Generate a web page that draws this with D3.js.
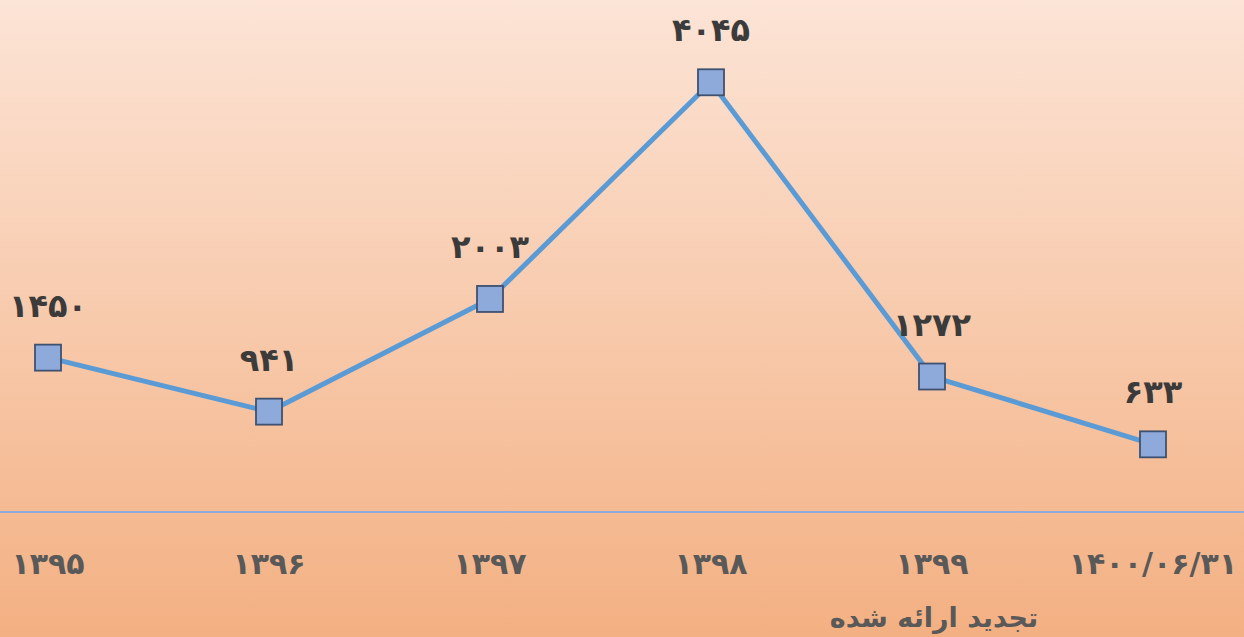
<!DOCTYPE html>
<html>
<head>
<meta charset="utf-8">
<script src="https://cdn.jsdelivr.net/npm/d3@7"></script>
<style>
  body { margin: 0; overflow: hidden; }
</style>
</head>
<body>
<div id="chart"></div>
<script>
const years = ["1395", "1396", "1397", "1398", "1399", "1400/06/31"];
const values = [1450, 941, 2003, 4045, 1272, 633];
const axisTitle = "تجدید ارائه شده";

const width = 1244, height = 637;

// latin digits -> persian digits
const fa = s => String(s).replace(/\d/g, d => "۰۱۲۳۴۵۶۷۸۹"[d]);

const svg = d3.select("#chart").append("svg")
    .attr("width", width)
    .attr("height", height);

const grad = svg.append("defs").append("linearGradient")
    .attr("id", "bg")
    .attr("x1", 0).attr("y1", 0).attr("x2", 0).attr("y2", 1);
grad.append("stop").attr("offset", "0%").attr("stop-color", "#fce4d6");
grad.append("stop").attr("offset", "100%").attr("stop-color", "#f3b082");

svg.append("rect")
    .attr("width", width)
    .attr("height", height)
    .attr("fill", "url(#bg)");

const x = d3.scalePoint()
    .domain(years)
    .range([48, 1153]);

const y = d3.scaleLinear()
    .domain([0, 4500])
    .range([511.5, 34]);

// category axis line
svg.append("line")
    .attr("x1", 0).attr("x2", width)
    .attr("y1", 512).attr("y2", 512)
    .attr("stroke", "#8eaadb")
    .attr("stroke-width", 2);

svg.append("g")
    .selectAll("text")
    .data(years)
    .join("text")
        .attr("x", d => x(d))
        .attr("y", 574)
        .attr("text-anchor", "middle")
        .attr("direction", "ltr")
        .style("font-family", "'DejaVu Sans', sans-serif")
        .style("font-weight", "bold")
        .style("font-size", "30px")
        .style("fill", "#595959")
        .text(d => fa(d));

svg.append("text")
    .attr("x", 934)
    .attr("y", 627)
    .attr("text-anchor", "middle")
    .style("font-family", "'DejaVu Sans', sans-serif")
    .style("font-weight", "bold")
    .style("font-size", "27px")
    .style("fill", "#595959")
    .text(axisTitle);

const line = d3.line()
    .x((d, i) => x(years[i]))
    .y(d => y(d));

svg.append("path")
    .datum(values)
    .attr("fill", "none")
    .attr("stroke", "#5b9bd5")
    .attr("stroke-width", 5)
    .attr("stroke-linejoin", "round")
    .attr("d", line);

const s = 26;
svg.append("g")
    .selectAll("rect")
    .data(values)
    .join("rect")
        .attr("x", (d, i) => x(years[i]) - s / 2)
        .attr("y", d => y(d) - s / 2)
        .attr("width", s)
        .attr("height", s)
        .attr("fill", "#8eaadb")
        .attr("stroke", "#3f5170")
        .attr("stroke-width", 1.8);

svg.append("g")
    .selectAll("text")
    .data(values)
    .join("text")
        .attr("x", (d, i) => x(years[i]))
        .attr("y", d => y(d) - 41)
        .attr("text-anchor", "middle")
        .style("font-family", "'DejaVu Sans', sans-serif")
        .style("font-weight", "bold")
        .style("font-size", "32px")
        .style("fill", "#3b3b3b")
        .text(d => fa(d));
</script>
</body>
</html>
